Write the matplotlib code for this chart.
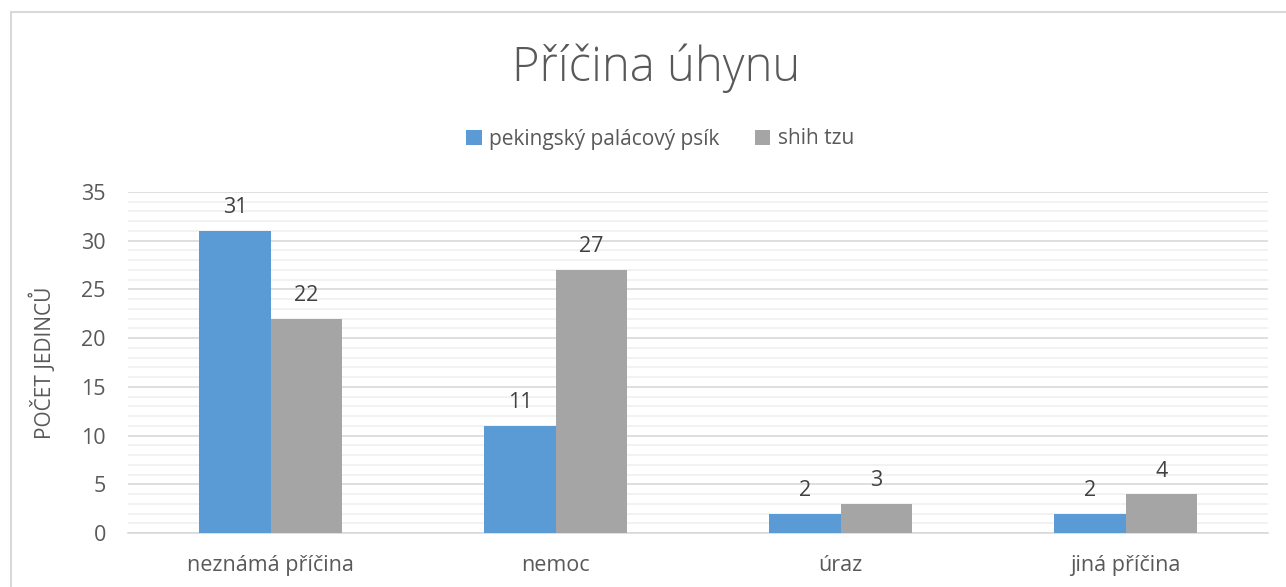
import matplotlib
matplotlib.use("Agg")
import matplotlib.pyplot as plt
import matplotlib.patches as mpatches
import numpy as np

categories = ["neznámá příčina", "nemoc", "úraz", "jiná příčina"]
series_names = ["pekingský palácový psík", "shih tzu"]
peking = [31, 11, 2, 2]
shihtzu = [22, 27, 3, 4]
yticks = [0, 5, 10, 15, 20, 25, 30, 35]
colors = ["#5b9bd5", "#a5a5a5"]
txt = "#595959"

plt.rcParams['font.family'] = ['Open Sans', 'DejaVu Sans']

fig = plt.figure(figsize=(12.86, 5.87), dpi=100)
fig.patches.append(mpatches.Rectangle((11/1286, -0.1), 1.2, 1 - 12/587 + 0.1,
                                      transform=fig.transFigure, fill=False,
                                      edgecolor="#d9d9d9", linewidth=1.5))
ax = fig.add_axes([128/1286, 1 - 533/587, 1140/1286, 341/587])

x = np.arange(len(categories))
w = 0.25
b1 = ax.bar(x - w/2, peking, w, color=colors[0], label=series_names[0], zorder=3)
b2 = ax.bar(x + w/2, shihtzu, w, color=colors[1], label=series_names[1], zorder=3)
for bars in (b1, b2):
    ax.bar_label(bars, padding=9, fontsize=15.5, color="#404040")

ax.set_xlim(-0.5, len(categories) - 0.5)
ax.set_ylim(0, 35)
ax.set_yticks(yticks)
ax.set_yticks(np.arange(0, 36, 1), minor=True)
ax.yaxis.grid(True, which="major", color="#d9d9d9", linewidth=1.2, zorder=0)
ax.yaxis.grid(True, which="minor", color="#f0f0f0", linewidth=1.2, zorder=0)
ax.set_axisbelow(True)
ax.set_xticks(x)
ax.set_xticklabels(categories)
ax.tick_params(axis="both", which="both", length=0, labelsize=15.5, colors=txt)
ax.tick_params(axis="x", pad=16)
ax.tick_params(axis="y", pad=16)
for s in ["top", "right", "left"]:
    ax.spines[s].set_visible(False)
ax.spines["bottom"].set_color("#d9d9d9")
ax.spines["bottom"].set_linewidth(1.2)
ax.set_ylabel("POČET JEDINCŮ", fontsize=15, color=txt, labelpad=18)

fig.text(656/1286, 1 - 68/587, "Příčina úhynu", ha="center", va="center",
         fontsize=34, color=txt, fontweight="light")
fig.legend(handles=[b1, b2], labels=series_names, loc="center",
           bbox_to_anchor=(660/1286, 1 - 139/587), ncol=2, frameon=False,
           fontsize=15, labelcolor=txt, handlelength=0.75, handleheight=0.75,
           handletextpad=0.35, columnspacing=1.7)

fig.savefig("out.png", dpi=100)
